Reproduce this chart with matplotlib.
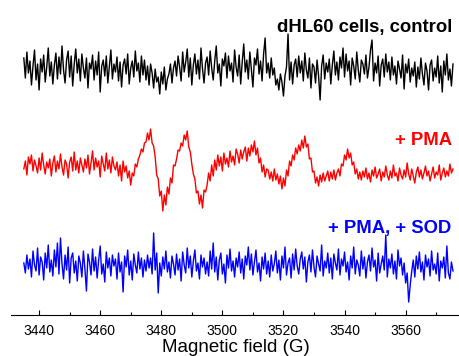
import numpy as np
import matplotlib
matplotlib.use("Agg")
import matplotlib.pyplot as plt
from matplotlib.ticker import MultipleLocator

# field sweep (G), 0.5 G step
field_start = 3435.0
field_stop = 3575.5

# signal amplitudes (arb. units), one row = 10 G
control = [
    12, -8, 18, -3, 9, -15, 4, 20, -10, 6, -20, 11, -2, 15, -12, 3, 22, -6, 8, -14,
    5, 17, -9, 13, -4, 24, 0, -13, 10, 19, -7, 14, -16, 6, 21, -3, 11, -11, 16, 2,
    -8, 12, -18, 7, 1, 15, -10, 9, -5, 18, -22, 4, 10, -6, 14, -13, 3, 20, -9, 6,
    -2, 13, -11, 8, -17, 5, 11, -4, 16, -14, 2, 9, -7, 19, -1, 7, -12, 14, -5, 10,
    -10, 4, -15, 6, -3, -18, 1, -12, -7, -24, -2, -14, 3, -20, -9, -4, 6, -13, 2, 9,
    -6, 14, 3, -11, 18, -2, 8, 21, -7, 12, -15, 5, 16, -4, 10, -9, 22, 1, -13, 7,
    13, -5, 19, 2, -10, 9, 24, -3, 6, -16, 11, 4, 17, -8, 14, -1, 7, -12, 20, 3,
    -6, 15, -14, 8, 26, -2, 10, -9, 18, 1, -17, 12, 5, 21, -4, 9, -11, 16, 32, -3,
    7, -8, 12, -5, 2, -15, -9, -20, -4, -12, -26, -6, 3, 36, -10, 8, -14, 5, 11, -7,
    14, -3, 9, -11, 17, 0, -8, 12, -18, 6, 3, -13, 10, -6, -30, 4, 15, -9, 7, -2,
    11, -14, 5, 19, -5, 8, -10, 13, 2, 22, -7, 16, -1, 9, -15, 12, 4, -9, 18, 0,
    -12, 10, 6, -4, 15, -8, 3, 20, 30, -11, 7, -3, 14, -16, 5, 11, -7, 16, -2, 8,
    -10, 13, -5, 4, -14, 9, 1, -8, 15, -19, 6, -3, 11, -12, 2, -6, 8, -17, 3, -9,
    12, -4, -15, 7, -1, -20, 5, 10, -11, 2, -7, 14, -13, 4, -22, 9, -5, 16, -10, 1,
    -16, 6,
]

pma = [
    -2, 6, -8, 10, 3, 12, -4, 7, 1, -6, 9, -3, 14, 2, -7, 5, -1, 8, -9, 4,
    11, -5, 6, -2, 13, 0, -8, 7, 3, -11, 5, 10, -4, 15, -3, 6, -6, 9, 2, -5,
    8, -1, 12, -7, 4, 16, -3, 9, 0, 6, -10, 11, 3, -4, 14, -2, 7, -6, 10, 1,
    -3, 5, -9, 2, -14, 6, -5, 1, -11, -4, -18, -6, -9, 3, 0, 8, 12, 18, 15, 24,
    25, 34, 27, 38, 24, 21, 10, -8, -12, -29, -24, -44, -28, -38, -20, -27, -11, -16, 2, 1,
    8, 17, 16, 24, 21, 32, 27, 36, 20, 15, 3, -7, -12, -26, -24, -37, -28, -41, -23, -25,
    -18, -6, -14, 2, -9, 7, -3, 12, 1, 10, -4, 14, 3, 9, 0, 16, 5, 11, 2, 18,
    13, 4, 17, 8, 15, 20, 6, 19, 11, 22, 15, 26, 12, 19, 4, 9, -5, 2, -10, -2,
    -3, -12, -5, -14, -2, -13, -7, -17, -9, -22, -11, -19, -3, -9, 6, 1, 12, 7, 19, 13,
    22, 16, 27, 19, 31, 20, 23, 8, 9, -5, -4, -16, -10, -19, -8, -15, -6, -14, -9, -4,
    -14, -5, -12, -3, -13, -6, -2, -9, 3, 1, 12, 7, 18, 9, 14, 2, 5, -7, -2, -12,
    -5, -13, -4, -10, -1, -12, -6, -15, -3, -9, 0, -11, -7, -2, -14, -5, -10, 1, -8, -13,
    -4, -11, 2, -9, -6, -14, -1, -8, -12, -3, -10, 4, -7, -13, -2, -9, -16, -5, 0, -10,
    -3, -12, -6, 1, -9, -4, -14, -7, 0, -11, -5, -8, 2, -13, -6, -1, -10, -4, -9, 3,
    -6, -2,
]

pma_sod = [
    2, -8, 10, -4, 6, -12, 14, 0, -6, 17, -10, 8, 3, -15, 12, -3, 20, -7, 5, -11,
    15, -2, 22, -9, 27, 1, -14, 10, -5, 18, -18, 7, 12, -8, 4, -16, 9, 2, -12, 14,
    -4, -26, 11, 3, -10, 16, -6, 8, -13, 5, 19, -9, 1, -17, 13, -3, 7, -11, 10, -1,
    6, -14, 12, -7, 3, -27, 9, -2, 15, -10, 4, -15, 11, 0, -8, 13, -4, 7, -12, 5,
    -6, 10, -3, 7, -9, 32, -5, 12, -28, 2, -11, 8, -4, 14, -7, 3, -13, 9, 1, -10,
    11, -5, 6, -16, 13, 0, -8, 17, -3, 9, -12, 4, 15, -6, 2, -14, 10, -2, 7, -9,
    3, -11, 14, -4, 22, -7, 8, -15, 5, 12, -9, 1, -18, 10, -3, 16, -6, 4, -12, 7,
    -2, 13, -8, 6, -14, 9, 0, 18, -5, 11, -10, 3, 15, -7, 2, -16, 8, -4, 12, -9,
    4, -12, 10, -6, 1, 14, -8, 5, -15, 9, -3, 18, -10, 2, 7, -13, 11, -5, 16, -1,
    -9, 6, 13, -4, 8, -17, 3, 10, -7, 15, -2, -12, 9, 1, -6, 20, -11, 4, -3, 12,
    -8, 7, -14, 11, 2, -5, 16, -10, 6, -1, 13, -7, 3, -15, 9, -3, 18, -9, 5, 0,
    -11, 14, -4, 8, -13, 3, 10, -6, 17, -2, 5, -16, 12, -8, 1, 9, -5, 30, -12, 6,
    -3, 11, -9, 4, -14, 15, -1, 7, -10, 2, -18, -8, -37, -20, -6, 5, -12, 9, -4, 13,
    -7, 3, -15, 10, -2, 6, -11, 14, -5, 1, -9, 12, -16, 4, -3, 8, -13, 19, -8, -14,
    3, -6,
]

labels = ["dHL60 cells, control", "+ PMA", "+ PMA, + SOD"]
colors = ["black", "#ff0000", "#0000ff"]


def main():
    plt.rcParams['font.family'] = ['Liberation Sans', 'DejaVu Sans']
    field = np.linspace(field_start, field_stop, len(control))

    fig = plt.figure(figsize=(4.6, 3.56), dpi=100)
    ax = fig.add_axes([11 / 460, 41 / 356, 449 / 460, 315 / 356])

    # stack the spectra
    offsets = [245, 148, 50]
    for trace, off, col in zip([control, pma, pma_sod], offsets, colors):
        ax.plot(field, np.array(trace) + off, color=col, lw=1.0)

    ax.set_xlim(3430.8, 3577.8)
    ax.set_ylim(0, 315)

    # labels above each trace (figure pixels)
    label_pos = [(452, 32), (452, 145), (451, 233)]
    for txt, col, (px, py) in zip(labels, colors, label_pos):
        fig.text(px / 460, 1 - py / 356, txt, color=col, fontsize=13.3,
                 fontweight='bold', ha='right', va='baseline')

    for s in ['left', 'top', 'right']:
        ax.spines[s].set_visible(False)
    ax.spines['bottom'].set_linewidth(0.8)
    ax.set_yticks([])
    ax.xaxis.set_major_locator(MultipleLocator(20))
    ax.xaxis.set_minor_locator(MultipleLocator(10))
    ax.tick_params(axis='x', which='major', direction='in', length=3.6,
                   width=0.8, labelsize=10, pad=6.5)
    ax.tick_params(axis='x', which='minor', direction='in', length=2.2,
                   width=0.8)
    ax.set_xlabel('Magnetic field (G)', fontsize=13.5, labelpad=1)

    fig.savefig('out.png', dpi=100)


if __name__ == "__main__":
    main()
